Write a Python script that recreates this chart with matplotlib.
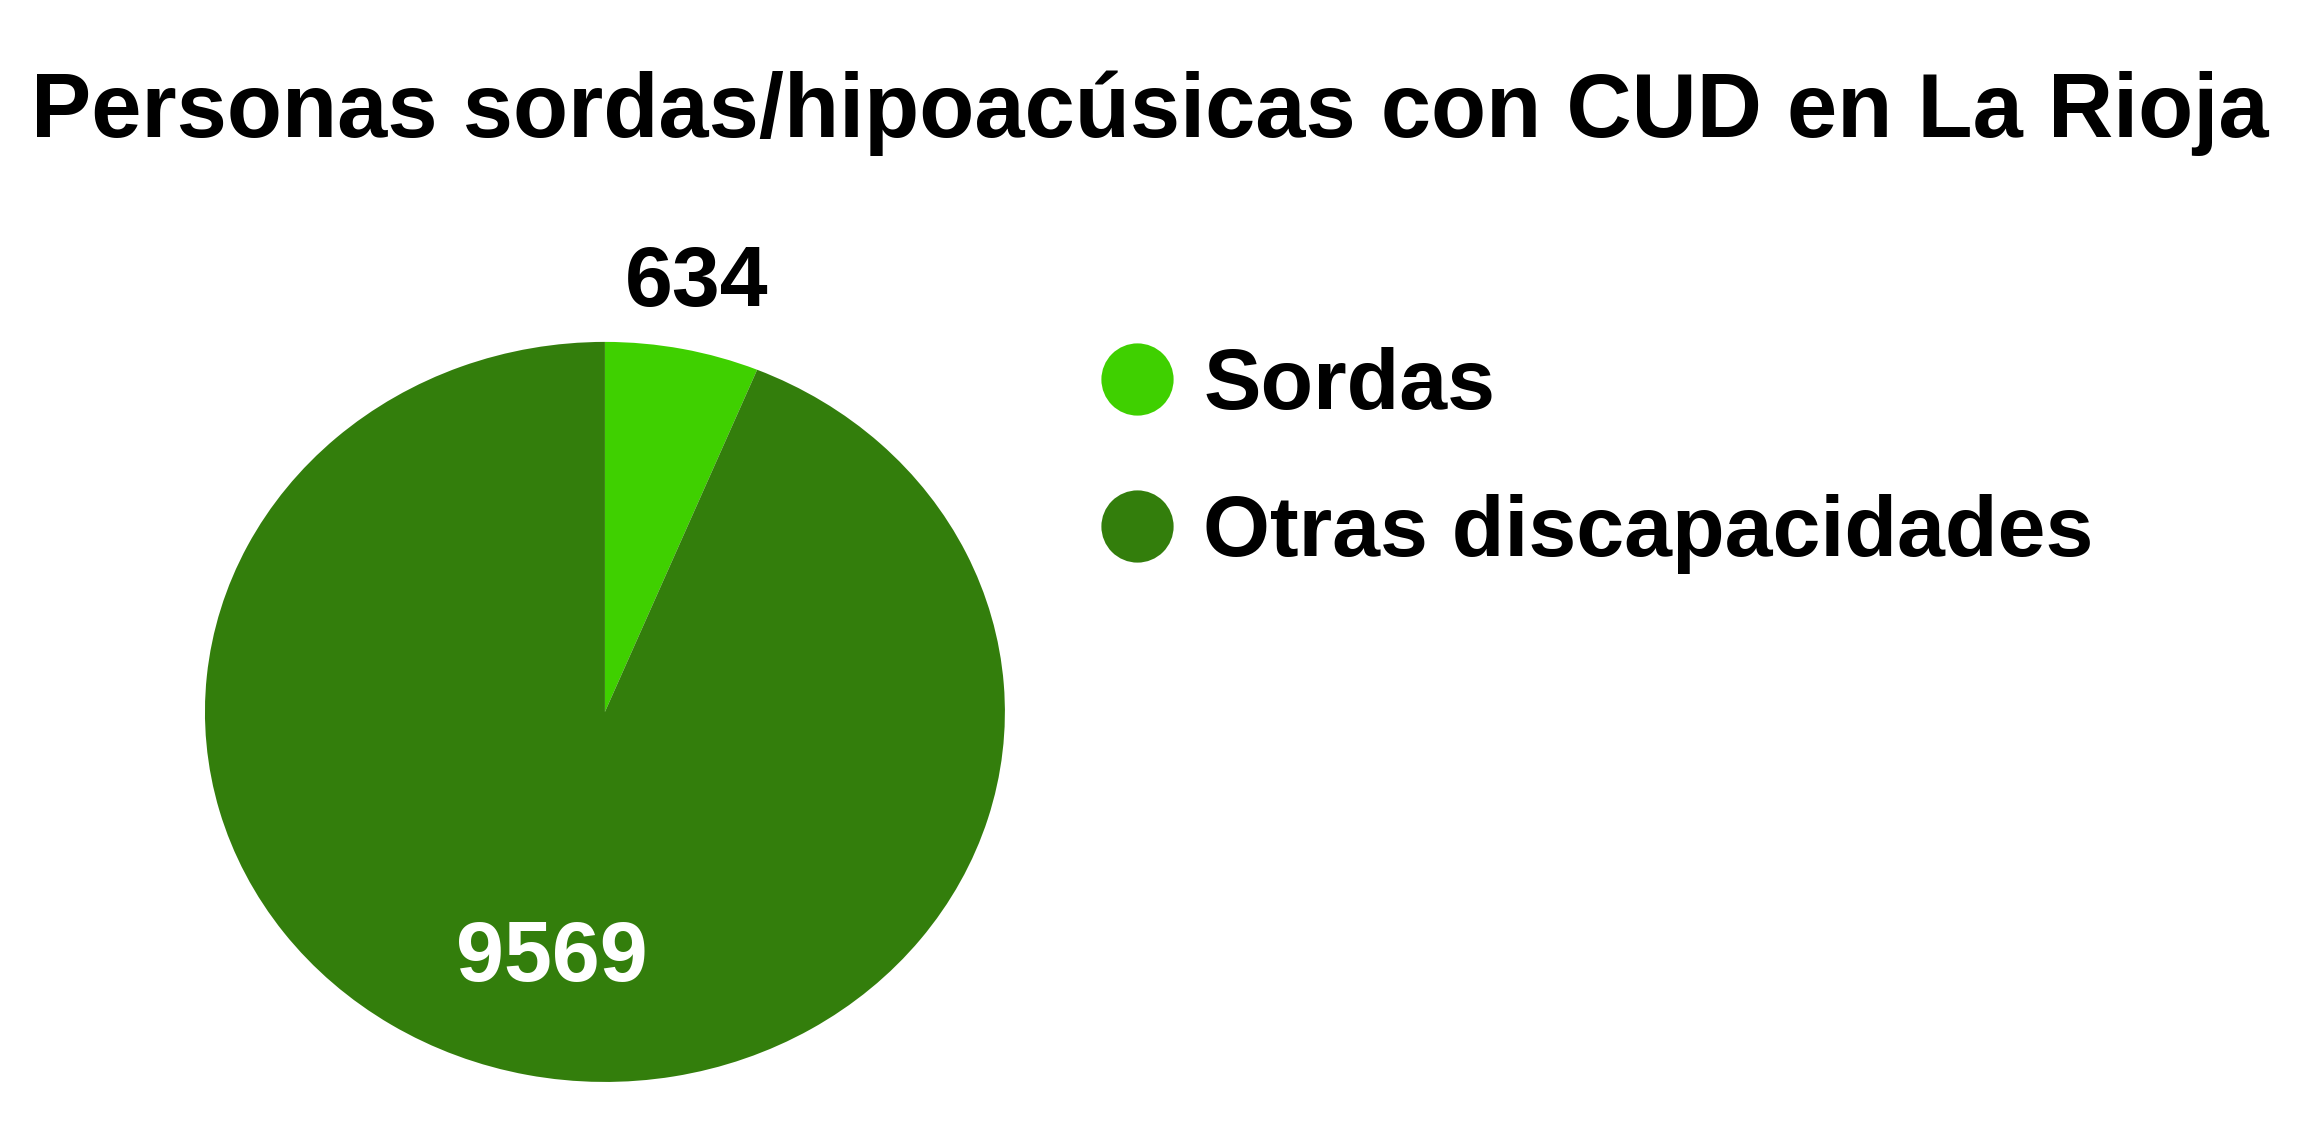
import numpy as np
import matplotlib.pyplot as plt
from matplotlib.lines import Line2D

categories = ["Sordas", "Otras discapacidades"]
values = [634, 9569]
colors = ["#3fd000", "#337e0c"]
title = "Personas sordas/hipoacúsicas con CUD en La Rioja"

plt.rcParams["font.family"] = ["Liberation Sans", "DejaVu Sans"]
plt.rcParams["font.weight"] = "bold"
fs = 65
fs_small = 62

fig = plt.figure(figsize=(23.08, 11.34), dpi=100)
ax = fig.add_axes([0.0888, 0.0459, 0.3466, 0.6526])

wedges, _ = ax.pie(values, colors=colors, startangle=90, counterclock=False,
                   radius=1, wedgeprops=dict(linewidth=0))
ax.set_aspect("auto")
ax.set_xlim(-1, 1)
ax.set_ylim(-1, 1)

# value labels: small slice outside, big slice inside
total = sum(values)
start = 90.0
dists = [1.18, 0.68]
tcolors = ["black", "white"]
for v, d, c in zip(values, dists, tcolors):
    span = 360.0 * v / total
    mid = np.deg2rad(start - span / 2)
    ax.text(d * np.cos(mid), d * np.sin(mid), str(v), ha="center", va="center",
            fontsize=fs_small, fontweight="bold", color=c)
    start -= span

fig.suptitle(title, x=0.498, y=0.90, va="center", fontsize=fs, fontweight="bold")

handles = [Line2D([], [], marker="o", linestyle="", markersize=52,
                  markerfacecolor=c, markeredgewidth=0) for c in colors]
fig.legend(handles, categories, loc="center left", bbox_to_anchor=(0.459, 0.594),
           frameon=False, fontsize=fs_small, handletextpad=0.27, labelspacing=0.78,
           handlelength=1.0, borderaxespad=0)

plt.savefig("out.png", dpi=100)
